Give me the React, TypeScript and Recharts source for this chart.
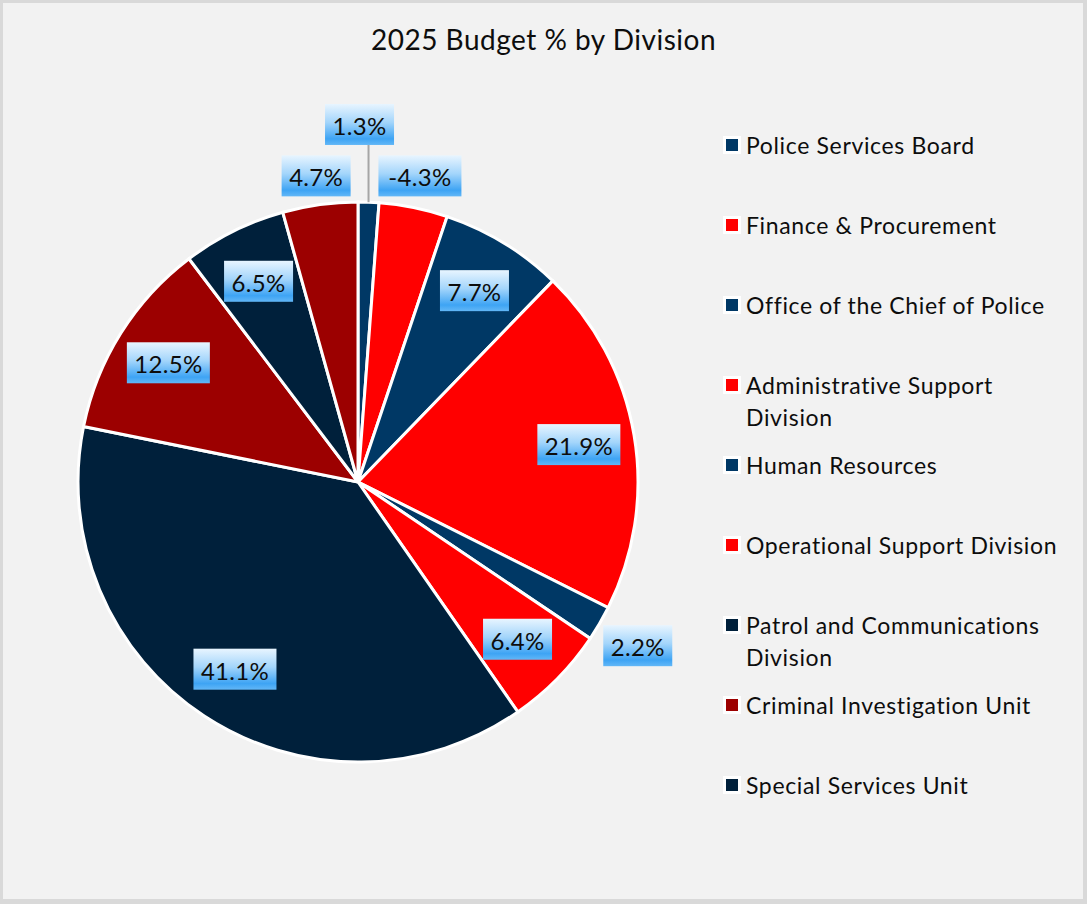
import { PieChart, Pie, Cell, Legend } from "recharts";

// Division names, in slice order (clockwise from 12 o'clock)
const divisions = [
  "Police Services Board",
  "Finance & Procurement",
  "Office of the Chief of Police",
  "Administrative Support Division",
  "Human Resources",
  "Operational Support Division",
  "Patrol and Communications Division",
  "Criminal Investigation Unit",
  "Special Services Unit",
  "Other",
];

// 2025 budget share (%), signed
const budgetPct = [1.3, -4.3, 7.7, 21.9, 2.2, 6.4, 41.1, 12.5, 6.5, 4.7];

const sliceColors = [
  "#003865",
  "#FF0000",
  "#003865",
  "#FF0000",
  "#003865",
  "#FF0000",
  "#00203B",
  "#9C0000",
  "#00203B",
  "#9C0000",
];

// the legend box only has room for nine entries
const LEGEND_ROWS = 9;

const FONT = "Lato, 'Open Sans', sans-serif";
const RAD = Math.PI / 180;

const pieData = divisions.map((name, i) => ({
  name,
  pct: budgetPct[i],
  size: Math.abs(budgetPct[i]),
}));
const total = pieData.reduce((s, d) => s + d.size, 0);

function renderLabel(props: any) {
  const { cx, cy, midAngle, outerRadius, index } = props;
  const v = budgetPct[index];
  const share = Math.abs(v) / total;
  const text = `${v.toFixed(1)}%`;
  const w = 14 * text.length + 13;
  const h = 41;
  const ux = Math.cos(-midAngle * RAD);
  const uy = Math.sin(-midAngle * RAD);

  // big slices: label inside; small slices: just outside the rim
  let r = outerRadius * 0.8;
  const tiny = share < 0.02;
  if (share < 0.05) {
    const reach = Math.abs(ux) * (w / 2) + Math.abs(uy) * (h / 2);
    r = outerRadius + (tiny ? 56 : 4) + reach;
  }
  const ex = cx + outerRadius * ux;
  const ey = cy + outerRadius * uy;
  // tiny slice label sits above its leader, nudged left of it
  const x = tiny ? ex - 9 : cx + r * ux;
  const y = cy + r * uy;

  return (
    <g key={`lbl-${index}`}>
      {tiny && (
        <line x1={ex} y1={ey} x2={ex} y2={y + h / 2} stroke="#A6A6A6" strokeWidth={2} />
      )}
      <rect x={x - w / 2} y={y - h / 2} width={w} height={h} fill="url(#labelFill)" />
      <text
        x={x}
        y={y + 1}
        textAnchor="middle"
        dominantBaseline="central"
        fontSize={24}
        letterSpacing={0.3}
        fontFamily={FONT}
        fill="#0D0D0D"
      >
        {text}
      </text>
    </g>
  );
}

function DivisionLegend() {
  return (
    <div style={{ fontFamily: FONT }}>
      {pieData.slice(0, LEGEND_ROWS).map((d, i) => (
        <div key={d.name} style={{ display: "flex", alignItems: "flex-start", height: 80 }}>
          <div
            style={{
              width: 18,
              height: 18,
              marginTop: 7,
              background: "#fff",
              display: "flex",
              alignItems: "center",
              justifyContent: "center",
              flex: "none",
            }}
          >
            <div style={{ width: 12, height: 12, background: sliceColors[i] }} />
          </div>
          <div
            style={{
              marginLeft: 5,
              width: 320,
              fontSize: 23,
              letterSpacing: 0.65,
              lineHeight: "32px",
              color: "#0D0D0D",
            }}
          >
            {d.name}
          </div>
        </div>
      ))}
    </div>
  );
}

export default function App() {
  return (
    <div style={{ position: "relative", width: 1087, height: 904, background: "#D9D9D9" }}>
      <style>{"body{margin:0}"}</style>
      <svg width={0} height={0} style={{ position: "absolute" }}>
        <defs>
          <linearGradient id="labelFill" x1="0" y1="0" x2="0" y2="1">
            <stop offset="0%" stopColor="#E8F5FF" />
            <stop offset="45%" stopColor="#A3D5FB" />
            <stop offset="85%" stopColor="#3EA4F4" />
            <stop offset="100%" stopColor="#62B7F7" />
          </linearGradient>
        </defs>
      </svg>
      <div
        style={{
          position: "absolute",
          left: 3,
          top: 3,
          width: 1080,
          height: 896,
          background: "#F2F2F2",
        }}
      />
      <div
        style={{
          position: "absolute",
          top: 22,
          left: 0,
          width: 1087,
          textAlign: "center",
          fontFamily: FONT,
          fontSize: 28,
          letterSpacing: 0.5,
          color: "#0D0D0D",
        }}
      >
        2025 Budget % by Division
      </div>
      <div style={{ position: "absolute", left: 0, top: 0 }}>
        <PieChart width={1087} height={904} margin={{ top: 0, right: 0, bottom: 0, left: 0 }}>
          <Pie
            data={pieData}
            dataKey="size"
            nameKey="name"
            cx={358}
            cy={482}
            outerRadius={280}
            startAngle={90}
            endAngle={-270}
            stroke="#FFFFFF"
            strokeWidth={3}
            labelLine={false}
            label={renderLabel}
            isAnimationActive={false}
          >
            {pieData.map((d, i) => (
              <Cell key={d.name} fill={sliceColors[i]} />
            ))}
          </Pie>
          <Legend
            layout="vertical"
            content={() => <DivisionLegend />}
            wrapperStyle={{ position: "absolute", left: 723, top: 129, width: 350 }}
          />
        </PieChart>
      </div>
    </div>
  );
}
